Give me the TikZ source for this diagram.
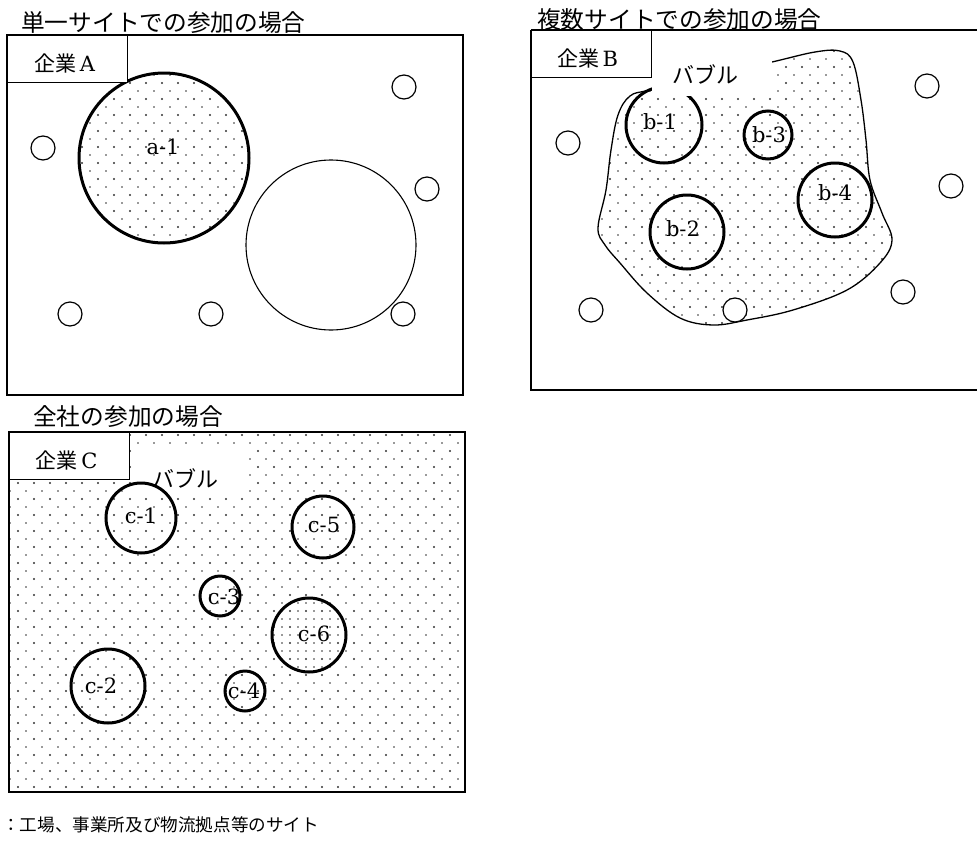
\documentclass[tikz,border=0pt]{standalone}
\usepackage{fontspec}
\newfontfamily\jp{Noto Sans CJK JP}
\newfontfamily\lat{DejaVu Serif}
\definecolor{dotc}{HTML}{333333}
\newcommand\dotsin[4]{%
  \pgfmathtruncatemacro\ya{#2+16}%
  \pgfmathtruncatemacro\xa{#1+16}%
  \foreach \yy in {#2,\ya,...,#4}{\foreach \xx in {#1,\xa,...,#3}{%
    \fill[dotc] (\xx+2,\yy+3) circle (1.1pt) (\xx+10,\yy+11) circle (0.9pt);}}}
\newcommand\dotsextra[4]{%
  \pgfmathtruncatemacro\ya{#2+16}%
  \pgfmathtruncatemacro\xa{#1+16}%
  \foreach \yy in {#2,\ya,...,#4}{\foreach \xx in {#1,\xa,...,#3}{%
    \fill[dotc] (\xx+10,\yy+3) circle (0.9pt) (\xx+2,\yy+11) circle (0.9pt);}}}
\begin{document}
\begin{tikzpicture}[x=1pt,y=-1pt,
  panel/.style={draw,line width=1.7pt},
  hdr/.style={draw,line width=1.3pt,fill=white,minimum width=120pt,minimum height=47pt,inner sep=0},
  hdrtxt/.style={font=\fontsize{21}{21}\selectfont,inner sep=0},
  bigc/.style={draw,circle,line width=3pt,inner sep=0},
  thinc/.style={draw,circle,line width=1.1pt,fill=white,inner sep=0},
  site/.style={draw,circle,line width=1.2pt,fill=white,minimum size=24pt,inner sep=0},
  lbl/.style={font=\lat\fontsize{21}{21}\selectfont,inner sep=0},
  ttl/.style={font=\jp\fontsize{23.7}{24}\selectfont,anchor=base west,inner sep=0},
  bub/.style={font=\jp\fontsize{22}{22}\selectfont,inner sep=0},
  wbox/.style={fill=white,draw=none}]
\useasboundingbox (0,0) rectangle (977,846);

% ---------- titles ----------
\node[ttl] (t1) at (21,31) {単一サイトでの参加の場合};
\node[ttl] (t2) at (537,28) {複数サイトでの参加の場合};
\node[ttl] (t3) at (33,425) {全社の参加の場合};
\node[font=\jp\fontsize{17.6}{18}\selectfont,anchor=base west,inner sep=0] (cap) at (2,831)
  {\makebox[17.6pt][c]{：}工場\makebox[17.6pt][l]{、}事業所及び物流拠点等のサイト};

% ---------- panel A ----------
\draw[panel] (7,35) rectangle (463,395);
\begin{scope}
  \clip (164,158) circle (85pt);
  \dotsin{64}{64}{256}{256}
\end{scope}
\node[bigc,minimum size=170pt] (a1) at (164,158) {};
\node[lbl] (a1l) at (163,147) {a-1};
\node[thinc,minimum size=170pt] (abig) at (331,245) {};
\node[hdr,anchor=north west] (hA) at (7,35) {};
\node[hdrtxt] (hAt) at ([xshift=-3pt,yshift=-4pt]hA.center) {{\jp 企業}\,{\lat A}};
\node[site] (sa1) at (43,148) {};
\node[site] (sa2) at (404,87) {};
\node[site] (sa3) at (427,189) {};
\node[site] (sa4) at (70,314) {};
\node[site] (sa5) at (211,314) {};
\node[site] (sa6) at (403,314) {};

% ---------- panel B ----------
\draw[panel] (531,30) -- (990,30) (531,30) -- (531,390) -- (990,390);
\def\blob{plot[smooth cycle,tension=0.6] coordinates {(650,90) (630,96) (618,115) (611,150) (606,190) (598,228) (605,245) (620,263) (647,293) (680,318) (713,325) (747,320) (793,310) (847,290) (880,263) (892,240) (882,213) (870,180) (866,140) (861,100) (853,62) (840,51) (815,52) (772,62) (710,76)}}
\begin{scope}
  \clip \blob;
  \dotsin{592}{48}{896}{336}
\end{scope}
\draw[line width=1.3pt] \blob;
\node[bigc,minimum size=76pt] (b1) at (664,125) {};
\node[bigc,minimum size=48pt] (b3) at (768,135) {};
\node[bigc,minimum size=74pt] (b4) at (835,200) {};
\node[bigc,minimum size=74pt] (b2) at (687,232) {};
\node[lbl] (b1l) at (660,122) {b-1};
\node[lbl] (b3l) at (769,135) {b-3};
\node[lbl] (b4l) at (835,193) {b-4};
\node[lbl] (b2l) at (683,229) {b-2};
\fill[wbox] (652,44) rectangle (772,96);
\node[bub] (bubB) at (705,74) {バブル};
\node[hdr,anchor=north west] (hB) at (531,30) {};
\node[hdrtxt] (hBt) at ([xshift=-4pt,yshift=-4pt]hB.center) {{\jp 企業}\,{\lat B}};
\node[site] (sb1) at (568,143) {};
\node[site] (sb2) at (927,86) {};
\node[site] (sb3) at (951,186) {};
\node[site] (sb4) at (903,292) {};
\node[site] (sb5) at (735,310) {};
\node[site] (sb6) at (591,310) {};

% ---------- panel C ----------
\begin{scope}
  \clip (9,432) rectangle (465,792);
  \dotsin{0}{432}{464}{800}
\end{scope}
\fill[wbox] (132,446) rectangle (249,496);
\node[bub] (bubC) at (185,478) {バブル};
\draw[panel] (9,432) rectangle (465,792);
\node[hdr,anchor=north west] (hC) at (9,432) {};
\node[hdrtxt] (hCt) at ([xshift=-3pt,yshift=-4pt]hC.center) {{\jp 企業}\,{\lat C}};
\begin{scope}
  \clip (309,635) circle (37pt);
  \dotsextra{272}{592}{352}{688}
\end{scope}
\node[bigc,minimum size=70pt] (c1) at (141,518) {};
\node[bigc,minimum size=62pt] (c5) at (323,527) {};
\node[bigc,minimum size=40pt] (c3) at (220,596) {};
\node[bigc,minimum size=74pt] (c6) at (309,635) {};
\node[bigc,minimum size=74pt] (c2) at (108,686) {};
\node[bigc,minimum size=40pt] (c4) at (245,691) {};
\node[lbl] (c1l) at (141,516) {c-1};
\node[lbl] (c5l) at (324,525) {c-5};
\node[lbl] (c3l) at (224,597) {c-3};
\node[lbl] (c6l) at (314,634) {c-6};
\node[lbl] (c2l) at (101,686) {c-2};
\node[lbl] (c4l) at (244,691) {c-4};
\end{tikzpicture}
\end{document}
